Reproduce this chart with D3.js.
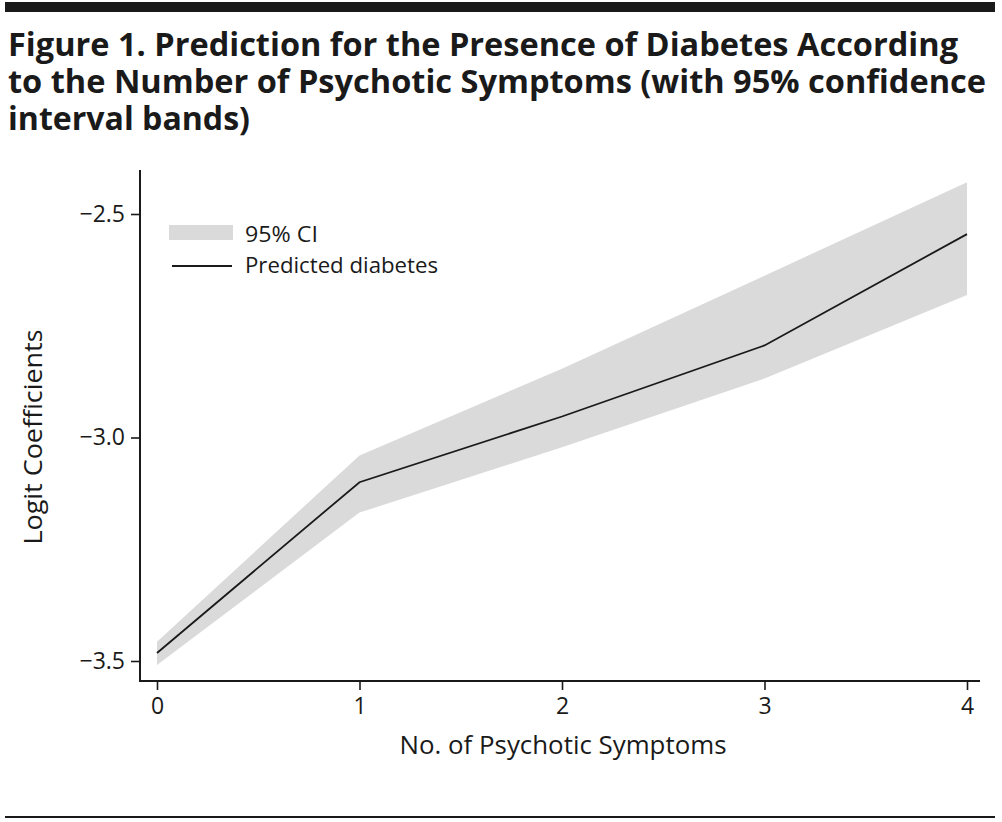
<!DOCTYPE html>
<html>
<head>
<meta charset="utf-8">
<script src="https://cdn.jsdelivr.net/npm/d3@7"></script>
<style>
  body { margin: 0; background: #fff; }
  svg { display: block; font-family: "Open Sans", "Noto Sans", sans-serif; }
</style>
</head>
<body>
<svg width="1002" height="822"></svg>
<script>
'use strict';

const symptoms = [0, 1, 2, 3, 4];
const predicted = [-3.482, -3.100, -2.953, -2.794, -2.545];
const ci_upper = [-3.457, -3.040, -2.846, -2.638, -2.429];
const ci_lower = [-3.509, -3.168, -3.022, -2.868, -2.681];
const y_ticks = [-3.5, -3.0, -2.5];
const title_lines = [
  'Figure 1. Prediction for the Presence of Diabetes According',
  'to the Number of Psychotic Symptoms (with 95% confidence',
  'interval bands)'
];

const svg = d3.select('svg');

// top rule and bottom rule
svg.append('rect').attr('x', 5).attr('y', 2).attr('width', 990).attr('height', 10).attr('fill', '#1a1a1a');
svg.append('rect').attr('x', 5).attr('y', 816).attr('width', 990).attr('height', 2).attr('fill', '#1a1a1a');

// title, squeezed to the reference widths
const title_widths = [950, 978, 242];
svg.append('g').selectAll('text').data(title_lines).join('text')
  .attr('x', 8)
  .attr('y', (d, i) => 56 + i * 37)
  .attr('font-size', 33)
  .attr('font-weight', 700)
  .attr('fill', '#1a1a1a')
  .attr('textLength', (d, i) => title_widths[i])
  .attr('lengthAdjust', 'spacingAndGlyphs')
  .text(d => d);

const x = d3.scaleLinear().domain([0, 4]).range([157, 967]);
const y = d3.scaleLinear().domain([-3.5, -2.5]).range([661, 214]);

// band + line
const data = symptoms.map((s, i) => ({s, p: predicted[i], lo: ci_lower[i], hi: ci_upper[i]}));
svg.append('path').datum(data)
  .attr('fill', '#dadada')
  .attr('d', d3.area().x(d => x(d.s)).y0(d => y(d.lo)).y1(d => y(d.hi)));

svg.append('path').datum(data)
  .attr('fill', 'none')
  .attr('stroke', '#1a1a1a')
  .attr('stroke-width', 1.8)
  .attr('d', d3.line().x(d => x(d.s)).y(d => y(d.p)));

// axes
const fmt = v => (v < 0 ? '\u2212' : '') + Math.abs(v).toFixed(1);
const ya = svg.append('g').attr('transform', 'translate(140,0)')
  .call(d3.axisLeft(y).tickValues(y_ticks).tickFormat(fmt).tickSize(9).tickPadding(6));
ya.select('.domain').attr('d', 'M0,170V682');
const xa = svg.append('g').attr('transform', 'translate(0,681)')
  .call(d3.axisBottom(x).tickValues(symptoms).tickFormat(d3.format('d')).tickSize(9).tickPadding(8));
xa.select('.domain').attr('d', 'M139,0H980');

[ya, xa].forEach(a => {
  a.select('.domain').attr('stroke', '#1a1a1a').attr('stroke-width', 2);
  a.selectAll('.tick line').attr('stroke', '#1a1a1a').attr('stroke-width', 1.6);
  a.selectAll('.tick text').attr('font-size', 23).attr('fill', '#1a1a1a')
    .attr('font-family', '"Open Sans", sans-serif');
});

// axis titles
svg.append('text')
  .attr('x', 563).attr('y', 754)
  .attr('text-anchor', 'middle')
  .attr('font-size', 25)
  .attr('fill', '#1a1a1a')
  .attr('textLength', 327)
  .attr('lengthAdjust', 'spacingAndGlyphs')
  .text('No. of Psychotic Symptoms');

svg.append('text')
  .attr('transform', 'translate(42,437) rotate(-90)')
  .attr('text-anchor', 'middle')
  .attr('font-size', 25)
  .attr('fill', '#1a1a1a')
  .attr('textLength', 215)
  .attr('lengthAdjust', 'spacingAndGlyphs')
  .text('Logit Coefficients');

// legend
const lg = svg.append('g');
lg.append('rect').attr('x', 169).attr('y', 225).attr('width', 64).attr('height', 15).attr('fill', '#dadada');
lg.append('line').attr('x1', 172).attr('x2', 232).attr('y1', 266).attr('y2', 266)
  .attr('stroke', '#1a1a1a').attr('stroke-width', 1.8);
const legend_widths = [73, 193];
lg.selectAll('text').data(['95% CI', 'Predicted diabetes']).join('text')
  .attr('x', 245)
  .attr('y', (d, i) => 242 + i * 31)
  .attr('font-size', 22)
  .attr('fill', '#1a1a1a')
  .attr('textLength', (d, i) => legend_widths[i])
  .attr('lengthAdjust', 'spacingAndGlyphs')
  .text(d => d);
</script>
</body>
</html>
